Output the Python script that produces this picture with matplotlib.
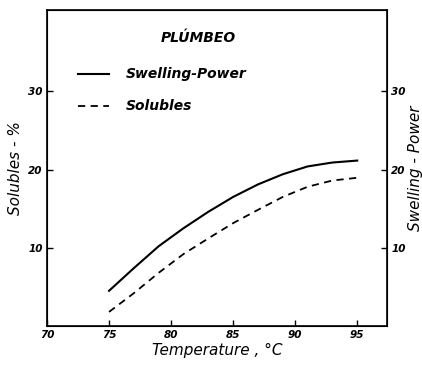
import numpy as np
import matplotlib
matplotlib.use('Agg')
import matplotlib.pyplot as plt

# ──────────────────────────────────────────────────────────────────────
#  DATA
# ──────────────────────────────────────────────────────────────────────
temperature    = [75, 77, 79, 81, 83, 85, 87, 89, 91, 93, 95]
swelling_power = [4.5, 7.4, 10.2, 12.5, 14.6, 16.5, 18.1, 19.4, 20.4, 20.9, 21.15]
solubles       = [1.8, 4.2, 6.8, 9.2, 11.2, 13.15, 14.85, 16.5, 17.8, 18.6, 18.95]

x_ticks = [70, 75, 80, 85, 90, 95]
y_ticks = [10, 20, 30]

title_text   = 'PLÚMBEO'
series_names = ['Swelling-Power', 'Solubles']

plt.rcParams['font.family'] = ['DejaVu Sans']
tick_font  = dict(fontsize=7.5, fontweight='bold', fontstyle='italic')
label_font = dict(fontsize=11, fontstyle='italic')

fig = plt.figure(figsize=(4.22, 3.65), dpi=100)
ax = fig.add_axes([47 / 422, 39 / 365, 340 / 422, 316 / 365])

ax.plot(temperature, swelling_power, color='black', lw=1.5,
        label=series_names[0])
ax.plot(temperature, solubles, color='black', lw=1.3, dashes=(4, 3),
        label=series_names[1])

ax.set_xlim(70, 97.4)
ax.set_ylim(0, 40.4)
ax.set_xticks(x_ticks)
ax.set_xticklabels([str(t) for t in x_ticks], **tick_font)
ax.set_yticks(y_ticks)
ax.set_yticklabels([str(t) for t in y_ticks], **tick_font)
ax.tick_params(direction='in', length=4, width=1, pad=3)
for s in ax.spines.values():
    s.set_linewidth(1.2)

ax.set_xlabel('Temperature , °C', labelpad=2, **label_font)
ax.set_ylabel('Solubles - %', labelpad=4, **label_font)

# right axis, same scale
ax2 = ax.twinx()
ax2.set_ylim(ax.get_ylim())
ax2.set_yticks(y_ticks)
ax2.set_yticklabels([str(t) for t in y_ticks], **tick_font)
ax2.tick_params(direction='in', length=4, width=1, pad=3)
ax2.set_ylabel('Swelling - Power', labelpad=2, **label_font)

# title + legend inside the plot
ax.text(0.445, 0.91, title_text, transform=ax.transAxes, ha='center',
        va='center', fontsize=10, fontweight='bold', fontstyle='italic')
ax.legend(loc='upper left', bbox_to_anchor=(0.053, 0.858), frameon=False,
          handlelength=2.3, handletextpad=1.2, labelspacing=1.3,
          prop=dict(size=10, style='italic', weight='bold'))

fig.savefig('out.png', dpi=100)
